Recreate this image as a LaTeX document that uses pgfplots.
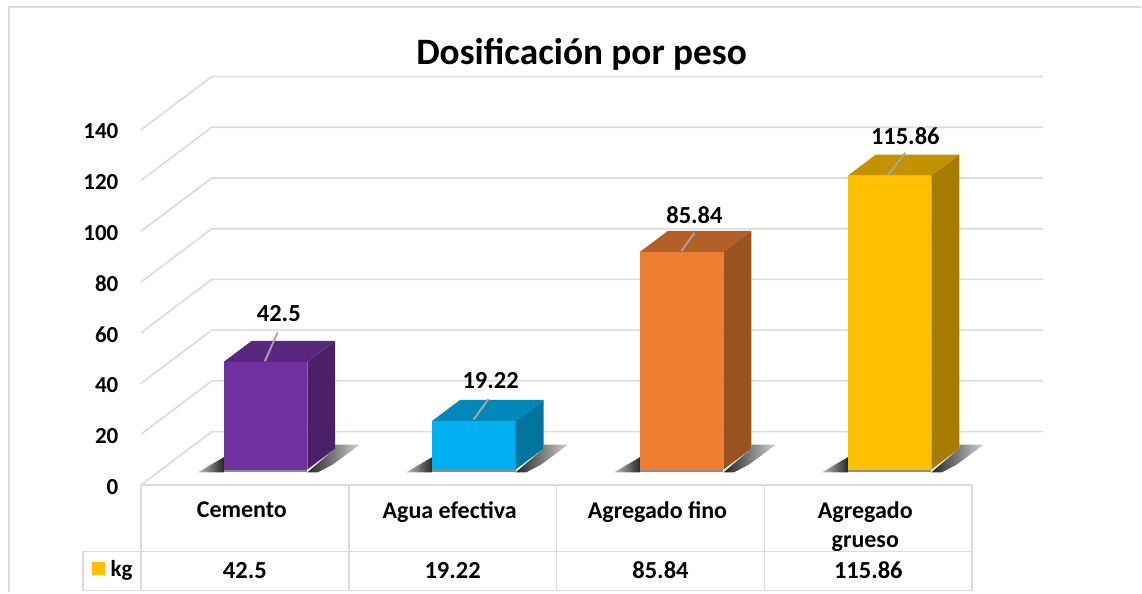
\documentclass[border=0pt]{standalone}
\usepackage{fontspec}
\setmainfont{Carlito}
\usepackage{pgfplots}
\pgfplotsset{compat=1.18}
\definecolor{gridc}{HTML}{DCDCDC}
\definecolor{leadc}{HTML}{A6A6A6}
\definecolor{HTMLa}{HTML}{7030A0}
\definecolor{HTMLb}{HTML}{4A2069}
\definecolor{HTMLc}{HTML}{592680}
\definecolor{HTMLd}{HTML}{00B0F0}
\definecolor{HTMLe}{HTML}{0075A0}
\definecolor{HTMLf}{HTML}{0088BA}
\definecolor{HTMLg}{HTML}{ED7D31}
\definecolor{HTMLh}{HTML}{9A5220}
\definecolor{HTMLi}{HTML}{B35F25}
\definecolor{HTMLj}{HTML}{FFC000}
\definecolor{HTMLk}{HTML}{A67D00}
\definecolor{HTMLl}{HTML}{C29200}
% bar: x-left, value, front, side, top colours
\newcommand{\threedbar}[5]{%
  \pgfmathsetmacro{\xa}{#1}\pgfmathsetmacro{\xb}{#1+83.5}\pgfmathsetmacro{\xc}{#1+111.5}%
  \pgfmathsetmacro{\xd}{#1+28}%
  \pgfmathsetmacro{\yb}{6.1}\pgfmathsetmacro{\yt}{6.1+#2}%
  \pgfmathsetmacro{\ybb}{14.37}\pgfmathsetmacro{\ytb}{14.37+#2}%
  \pgfmathsetmacro{\sxa}{#1-26}\pgfmathsetmacro{\sxb}{#1+136}%
  \pgfmathsetmacro{\sxc}{#1+109}\pgfmathsetmacro{\sxd}{#1+94}%
  \addplot[draw=none,left color=black!25,right color=black!85,forget plot] coordinates {(\sxa,5.0)(\xa,11)(\xa,5.0)} --cycle;
  \addplot[draw=none,fill=black!45,forget plot] coordinates {(\xa,5.0)(\xb,5.0)(\xb,6.2)(\xa,6.2)} --cycle;
  \addplot[draw=none,left color=black!85,right color=black!18,forget plot] coordinates {(\xb,5.0)(\xc,14.4)(\xc,15.95)(\sxb,15.95)(\sxc,8.07)(\sxd,5.0)} --cycle;
  \addplot[draw=none,fill=#3,forget plot] coordinates {(\xa,\yb)(\xb,\yb)(\xb,\yt)(\xa,\yt)} --cycle;
  \addplot[draw=none,fill=#4,forget plot] coordinates {(\xb,\yb)(\xc,\ybb)(\xc,\ytb)(\xb,\yt)} --cycle;
  \addplot[draw=none,fill=#5,forget plot] coordinates {(\xa,\yt)(\xb,\yt)(\xc,\ytb)(\xd,\ytb)} --cycle;
}
\begin{document}
\begin{tikzpicture}
\begin{axis}[
  scale only axis, width=903pt, height=355.46pt,
  xmin=141, xmax=1044, ymin=0, ymax=140,
  clip=false,
  axis line style={draw=none},
  major tick length=0pt,
  ytick={0,20,...,140},
  yticklabel style={font=\fontsize{23}{23}\selectfont\bfseries, anchor=east, xshift=-19pt, yshift=-1.5pt},
  /pgf/number format/assume math mode=true,
  xtick={245,453,661,869},
  xticklabels={Cemento,Agua efectiva,Agregado fino,{Agregado\\grueso}},
  xticklabel style={font=\fontsize{24}{29}\selectfont\bfseries, align=center, anchor=north, yshift=-13pt, xshift=-3pt},
]
% page extent and outer frame
\path (axis cs:0,-42.34) rectangle (axis cs:1142,191.2);
\addplot[gridc,line width=1.8pt,forget plot] coordinates {(9,-42.34)(9,188.4)(1142,188.4)};
% grid
\pgfplotsinvokeforeach{0,20,...,140}{
  \addplot[gridc,line width=1.7pt,forget plot] coordinates {(141,#1)(212,{#1+21.07})(1044,{#1+21.07})};
}
% data table
\addplot[gridc,line width=1.8pt,forget plot] coordinates {(141,0)(973,0)(973,-41.55)(83,-41.55)(83,-26.19)(973,-26.19)};
\addplot[gridc,line width=1.8pt,forget plot] coordinates {(141,0)(141,-41.55)};
\addplot[gridc,line width=1.8pt,forget plot] coordinates {(349,0)(349,-41.55)};
\addplot[gridc,line width=1.8pt,forget plot] coordinates {(557,0)(557,-41.55)};
\addplot[gridc,line width=1.8pt,forget plot] coordinates {(765,0)(765,-41.55)};
% bars
\threedbar{224}{42.5}{HTMLa}{HTMLb}{HTMLc}
\threedbar{432.5}{19.22}{HTMLd}{HTMLe}{HTMLf}
\threedbar{640.5}{85.84}{HTMLg}{HTMLh}{HTMLi}
\threedbar{848.5}{115.86}{HTMLj}{HTMLk}{HTMLl}
% leader lines
\addplot[leadc,line width=1.9pt,forget plot] coordinates {(265,48.8)(278,60.2)};
\addplot[leadc,line width=1.9pt,forget plot] coordinates {(474,25.8)(489,34)};
\addplot[leadc,line width=1.9pt,forget plot] coordinates {(682,92.3)(695,99.4)};
\addplot[leadc,line width=1.9pt,forget plot] coordinates {(889,122.3)(906,131)};
% data labels
\node[font=\fontsize{24.5}{24.5}\selectfont\bfseries] at (axis cs:279,67.5) {42.5};
\node[font=\fontsize{24.5}{24.5}\selectfont\bfseries] at (axis cs:491,41.1) {19.22};
\node[font=\fontsize{24.5}{24.5}\selectfont\bfseries] at (axis cs:695,106.5) {85.84};
\node[font=\fontsize{24.5}{24.5}\selectfont\bfseries] at (axis cs:906,137.6) {115.86};
% table row
\node[font=\fontsize{24.5}{24.5}\selectfont\bfseries] at (axis cs:245,-33.5) {42.5};
\node[font=\fontsize{24.5}{24.5}\selectfont\bfseries] at (axis cs:453,-33.5) {19.22};
\node[font=\fontsize{24.5}{24.5}\selectfont\bfseries] at (axis cs:661,-33.5) {85.84};
\node[font=\fontsize{24.5}{24.5}\selectfont\bfseries] at (axis cs:869,-33.5) {115.86};
\node[font=\fontsize{23}{23}\selectfont\bfseries,anchor=west,inner sep=0pt] at (axis cs:110.5,-33.5) {kg};
\addplot[draw=none,fill=HTMLj,forget plot] coordinates {(92,-30.5)(105,-30.5)(105,-35.6)(92,-35.6)} --cycle;
% title
\node[font=\fontsize{37.3}{37.3}\selectfont\bfseries] at (axis cs:582,169.7) {Dosificación por peso};
\end{axis}
\end{tikzpicture}
\end{document}
